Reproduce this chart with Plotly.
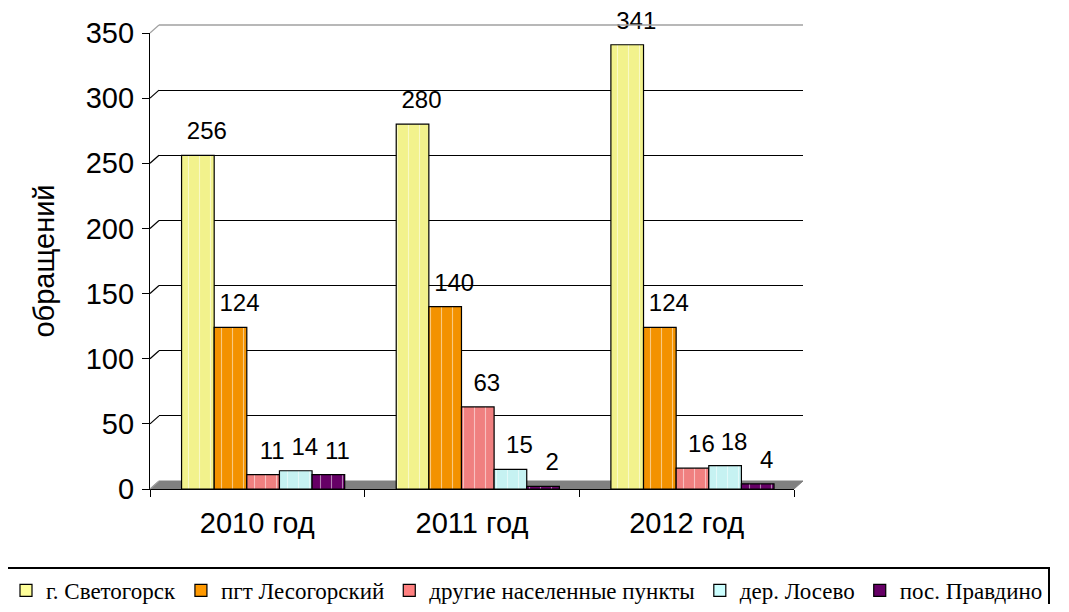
import plotly.graph_objects as go

categories = ["2010 год", "2011 год", "2012 год"]
series_names = ["г. Светогорск", "пгт Лесогорский", "другие населенные пункты", "дер. Лосево", "пос. Правдино"]
svetogorsk = [256, 280, 341]
lesogorsky = [124, 140, 124]
drugie = [11, 63, 16]
losevo = [14, 15, 18]
pravdino = [11, 2, 4]
series_values = [svetogorsk, lesogorsky, drugie, losevo, pravdino]
bar_colors = ["#F2F28C", "#F39200", "#F08080", "#C6F2F2", "#660066"]
legend_colors = ["#FFFF99", "#FF9900", "#FF8080", "#CCFFFF", "#660066"]
y_ticks = [0, 50, 100, 150, 200, 250, 300, 350]

# page body has an 8px margin: figure is sized/shifted to compensate
W, H = 1053, 596
ML, MR, MT, MB = 142, 0, 17, 115
PW = W - ML - MR          # plot area width (wide, so the legend fits one row)
PH = H - MT - MB
FRONT_W = 644             # front plane width in px
DX, DY = 9, 8             # 3D depth offset (px)
fx1 = FRONT_W / PW
bx0 = DX / PW
bx1 = (FRONT_W + DX) / PW
fy1 = (PH - DY) / PH
by0 = DY / PH

fig = go.Figure()

bar_w = 0.152
start = -0.353
for i, (name, vals) in enumerate(zip(series_names, series_values)):
    fig.add_trace(go.Bar(
        x=categories, y=vals, name=name, showlegend=False,
        xaxis="x2", yaxis="y2",
        width=bar_w, offset=start + i * bar_w,
        marker=dict(color=bar_colors[i], line=dict(color="black", width=1.2),
                    pattern=dict(shape="|", fgcolor="white", size=11, solidity=0.1)),
        hoverinfo="x+y",
    ))

# value labels, placed on the back (depth-shifted) plane like the 3D original
for i, (name, vals) in enumerate(zip(series_names, series_values)):
    fig.add_trace(go.Bar(
        x=categories, y=vals, name=name, showlegend=False,
        xaxis="x", yaxis="y",
        width=bar_w, offset=start + i * bar_w,
        marker=dict(color="rgba(0,0,0,0)", line=dict(width=0)),
        text=vals, textposition="outside", constraintext="none",
        textfont=dict(family="Liberation Sans, Arial", size=24, color="black"),
        cliponaxis=False, hoverinfo="skip",
    ))

# legend entries (solid swatches)
for i, name in enumerate(series_names):
    fig.add_trace(go.Bar(
        x=[None], y=[None], name=name, xaxis="x", yaxis="y",
        marker=dict(color=legend_colors[i], line=dict(color="black", width=1.2)),
    ))

shapes = []
# floor
shapes.append(dict(type="path", xref="paper", yref="paper", layer="below",
                   path=f"M0,0 L{fx1},0 L{bx1},{by0} L{bx0},{by0} Z",
                   fillcolor="#808080", line=dict(color="#808080", width=1)))
# back wall top edge
shapes.append(dict(type="line", xref="x domain", yref="y domain", x0=0, x1=1, y0=1, y1=1,
                   line=dict(color="#A0A0A0", width=1.5)))
# diagonal connectors from front ticks to back wall
for v in y_ticks:
    yf = v / 350 * fy1
    shapes.append(dict(type="line", xref="paper", yref="paper",
                       x0=0, y0=yf, x1=bx0, y1=yf + by0,
                       line=dict(color="black" if 0 < v < 350 else "#A0A0A0", width=1.2)))

fig.update_layout(
    width=W, height=H,
    margin=dict(l=ML, r=MR, t=MT, b=MB, autoexpand=False),
    paper_bgcolor="white", plot_bgcolor="rgba(0,0,0,0)",
    font=dict(family="Liberation Sans, Arial", color="black"),
    barmode="group",
    showlegend=True,
    shapes=shapes,
    xaxis=dict(domain=[bx0, bx1], visible=False, type="category",
               categoryorder="array", categoryarray=categories,
               range=[-0.5, 2.5], fixedrange=True),
    yaxis=dict(domain=[by0, 1], range=[0, 350], tickvals=y_ticks[1:-1], showgrid=True,
               gridcolor="black", gridwidth=1.3, showticklabels=False, ticks="",
               showline=False, zeroline=False),
    xaxis2=dict(domain=[0, fx1], anchor="y2", type="category", range=[-0.5, 2.5],
                categoryorder="array", categoryarray=categories,
                showline=True, linecolor="black", linewidth=1.3,
                ticks="outside", tickson="boundaries", ticklen=7, tickcolor="black",
                tickfont=dict(size=29), ticklabelstandoff=8, showgrid=False),
    yaxis2=dict(domain=[0, fy1], anchor="x2", range=[0, 350], tickvals=y_ticks,
                showline=True, linecolor="black", linewidth=1.3,
                ticks="outside", ticklen=7, tickcolor="black", ticklabelstandoff=2,
                tickfont=dict(size=29), showgrid=False, zeroline=False,
                title=dict(text="обращений", font=dict(size=29), standoff=22)),
    legend=dict(orientation="h", xref="paper", yref="paper",
                x=(-4 - ML) / PW, y=((H - MB) - 559) / PH, xanchor="left", yanchor="top",
                bgcolor="white", bordercolor="black", borderwidth=2,
                font=dict(family="Liberation Serif, Times New Roman", size=23, color="black"),
                traceorder="normal"),
)

fig.write_html("out.html")
